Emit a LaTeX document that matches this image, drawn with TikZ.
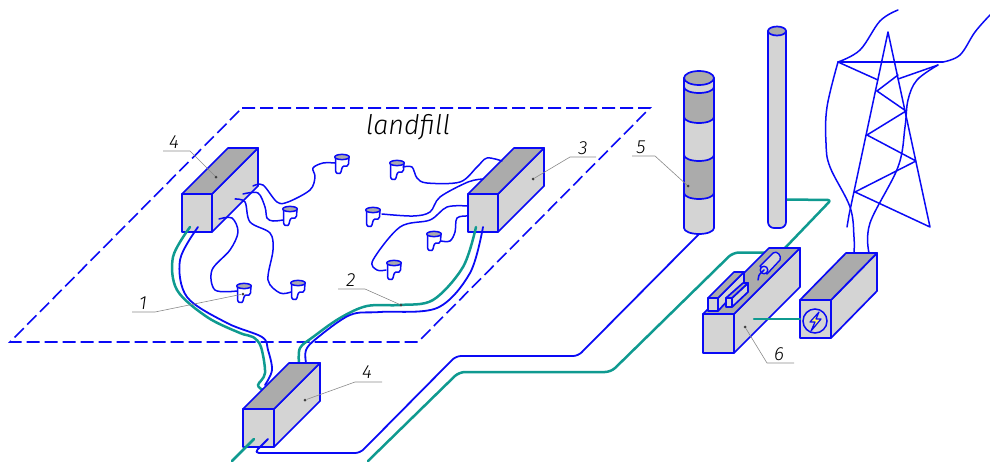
\documentclass[tikz,border=0pt]{standalone}
\usepackage{fontspec}
\newfontfamily\lblfont{Fira Sans Light Italic}
\definecolor{wireblue}{HTML}{0A0AF5}
\definecolor{cableteal}{HTML}{0F9A90}
\definecolor{facegray}{HTML}{D4D4D4}
\definecolor{topgray}{HTML}{ABABAB}
\definecolor{leadgray}{HTML}{8A8A8A}
\newcommand{\isobox}[6]{%
  \draw[solidline,fill=facegray] (#1,#3) rectangle (#2,#4);
  \draw[solidline,fill=facegray] (#2,#3) -- ++(#5,#6) -- ($(#2,#4)+(#5,#6)$) -- (#2,#4) -- cycle;
  \draw[solidline,fill=topgray] (#1,#3) -- (#2,#3) -- ++(#5,#6) -- ($(#1,#3)+(#5,#6)$) -- cycle;
}
\newcommand{\cylband}[5]{% x0 x1 y0 y1 colour
  \draw[solidline,fill=#5] (#1,#3) arc[start angle=180,end angle=0,x radius=15,y radius=6] -- (#2,#4) arc[start angle=0,end angle=180,x radius=15,y radius=6] -- cycle;
}
\usetikzlibrary{calc}
\tikzset{
  x=1pt,y=-1pt,
  solidline/.style={draw=wireblue,line width=1.7pt,line join=round,line cap=round},
  thinwire/.style={draw=wireblue,line width=1.5pt,line join=round,line cap=round},
  cable/.style={draw=cableteal,line width=2.5pt,line join=round,line cap=round},
  bluecable/.style={draw=wireblue,line width=1.8pt,line join=round,line cap=round},
  dashline/.style={draw=wireblue,line width=1.6pt,dash pattern=on 13pt off 5pt},
  leader/.style={draw=leadgray,line width=0.6pt},
  leaddot/.style={fill=black!75,circle,inner sep=0pt,minimum size=3pt},
  numlabel/.style={font=\lblfont\fontsize{19}{19}\selectfont,text=black,inner sep=0pt},
  cup/.pic={
    \draw[thinwire,fill=white] (-6.5,0) -- (-6.5,13) .. controls (-6.5,16.5) and (-4,17) .. (-2,16.5) .. controls (0,15) and (-1,9.5) .. (2,9) .. controls (4,9) and (6.5,10) .. (6.5,7) -- (7,0) -- cycle;
    \draw[thinwire,fill=topgray] (0,0) ellipse[x radius=7.3,y radius=2.6];
  },
}
\begin{document}
\begin{tikzpicture}
\useasboundingbox (0,0) rectangle (990,461);
% landfill
\coordinate (lfA) at (242,108);\coordinate (lfB) at (650,108);\coordinate (lfC) at (418,342);\coordinate (lfD) at (10,342);
\draw[dashline] (lfA) -- (lfB) -- (lfC) -- (lfD) -- cycle;
\node[font=\lblfont\fontsize{27}{27}\selectfont,inner sep=0pt] (title) at (408,127) {landfill};
% upper boxes
\isobox{182}{212}{194}{232}{46}{-46}
\isobox{468}{498}{194}{232}{46}{-46}
% cups
\foreach \cx/\cy in {244/286,298/283,290/209,342/157,397/163,373/210,434/234,394/263}
  \pic at (\cx,\cy) {cup};
% gas wires left
\draw[thinwire] plot[smooth,tension=.55] coordinates {(253,186)(263,185)(277,202)(288,202)(310,190)(315,177)(313,168)(323,163)(335,163)};
\draw[thinwire] plot[smooth,tension=.55] coordinates {(243,194)(258,193)(265,207)(267,218)(273,221)(283,220)};
\draw[thinwire] plot[smooth,tension=.55] coordinates {(235,199)(245,202)(250,222)(270,233)(273,250)(268,280)(280,293)(291,292)};
\draw[thinwire] plot[smooth,tension=.55] coordinates {(219,219)(232,218)(238,232)(230,250)(212,270)(215,290)(237,291)};
% gas wires right
\draw[thinwire] plot[smooth,tension=.55] coordinates {(502,161)(487,158)(477,167)(460,182)(427,183)(417,178)(412,167)(403,167)};
\draw[thinwire] plot[smooth,tension=.55] coordinates {(483,179)(468,182)(440,197)(430,212)(413,216)(382,214)};
\draw[thinwire] plot[smooth,tension=.55] coordinates {(468,206)(447,207)(430,220)(400,227)(373,260)(377,270)(386,270)};
\draw[thinwire] plot[smooth,tension=.55] coordinates {(468,216)(457,218)(455,232)(450,241)(441,241)};
% main cables
\draw[cable] plot[smooth,tension=.55] coordinates {(190,227)(173,257)(177,290)(207,317)(240,333)(253,337)(261,347)(265,373)(258,385)(263,390)};
\draw[bluecable] plot[smooth,tension=.55] coordinates {(198,227)(180,260)(187,297)(227,323)(262,337)(268,350)(272,370)(265,385)};
\draw[cable] plot[smooth,tension=.55] coordinates {(476,227)(463,267)(433,300)(400,305)(367,306)(340,318)(313,337)(300,348)(299,363)};
\draw[bluecable] plot[smooth,tension=.55] coordinates {(483,227)(470,273)(437,308)(380,312)(350,315)(317,338)(306,350)(306,363)};
% lower box
\isobox{243}{274}{409}{447}{46}{-46}
% long runs
\coordinate (tealstart) at (254,439);\coordinate (tealend) at (232,461);
\draw[cable] (tealstart) -- (tealend);
\coordinate (cyl5foot) at (699,234);
\draw[bluecable,rounded corners=5pt] (268,439) -- (254,453) -- (360,453) -- (456,356) -- (578,356) -- (cyl5foot);
\draw[cable,rounded corners=6pt] (368,461) -- (459,372) -- (611,372) -- (733,252.5) -- (765,252.5);
\draw[cable,rounded corners=3pt] (785,248) -- (831,200) -- (786,199.5);
% cylinder 5
\draw[solidline,fill=facegray] (684,78) -- (684,228) arc[start angle=180,end angle=0,x radius=15,y radius=6] -- (714,78) -- cycle;
\cylband{684}{714}{87}{117}{topgray}
\cylband{684}{714}{155}{193}{topgray}
\draw[solidline,fill=topgray] (699,78) ellipse[x radius=15,y radius=7];
% cylinder
\draw[solidline,fill=facegray] (768,31) -- (768,222) arc[start angle=180,end angle=90,x radius=6,y radius=6] -- (780,228) arc[start angle=90,end angle=0,x radius=6,y radius=6] -- (786,31) -- cycle;
\draw[solidline,fill=topgray] (777,31) ellipse[x radius=9,y radius=4.5];
% tower
\draw[thinwire] (847,227) -- (849,215) -- (888,32) -- (930,227) -- (855,192) -- (916,161) -- (867,135) -- (906,111) -- (877,91) -- (898,75);
\draw[thinwire] (838,62) -- (943,62);
\draw[thinwire] (838,62) -- (878,80);
\draw[thinwire] (898,79) -- (938,65);
\draw[thinwire] plot[smooth,tension=.6] coordinates {(898,10)(880,21)(860,50)(838,62)};
\draw[thinwire] plot[smooth,tension=.6] coordinates {(990,15)(975,32)(960,55)(943,62)};
\draw[thinwire] plot[smooth,tension=.6] coordinates {(838,62)(827,107)(826,143)(830,167)(850,207)(854,237)(854,253)};
\draw[thinwire] plot[smooth,tension=.6] coordinates {(938,65)(917,80)(908,100)(905,127)(898,167)(870,223)(869,253)};
% box 6
\isobox{703}{734}{314}{353}{66}{-66}
\draw[solidline,fill=facegray] (708,298) rectangle (718,311);
\draw[solidline,fill=facegray] (718,298) -- (744,272) -- (744,283) -- (718,311) -- cycle;
\draw[solidline,fill=topgray] (708,298) -- (718,298) -- (744,272) -- (734,272) -- cycle;
\draw[solidline,fill=facegray] (726,298) rectangle (732,307);
\draw[solidline,fill=facegray] (732,298) -- (748,283) -- (748,292) -- (732,307) -- cycle;
\draw[solidline,fill=topgray] (726,298) -- (732,298) -- (748,283) -- (743,283) -- cycle;
\draw[solidline,line width=1.4pt,fill=facegray] (760,266) -- (773,253) .. controls (777,250) and (782,256) .. (780,260) -- (767,274) -- cycle;
\draw[solidline,line width=1.4pt,fill=facegray] (764,270) circle[radius=3.8];
\draw[thinwire] (764,270) -- (762,272) .. controls (759,274) and (758,277) .. (758,280);
% power box
\isobox{800}{831}{300}{338}{46}{-47}
\node[circle,draw=wireblue,line width=1.5pt,minimum size=24pt,inner sep=0pt] (powercircle) at (815,321) {};
\draw[draw=wireblue,line width=1.2pt,fill=yellow!60,line join=round] (819,312) -- (810,322) -- (815,322) -- (811,331) -- (821,319) -- (816,319) -- cycle;
\coordinate (feedin) at (754,319);
\draw[cable] (feedin) -- (800,319);
% leaders and labels
\node[leaddot] (d1) at (243,294) {};
\draw[leader] (132,312) -- (155,312) -- (d1);
\node[numlabel] (n1) at (143,303) {1};
\node[leaddot] (d4a) at (216,177) {};
\draw[leader] (163,151) -- (190,151) -- (d4a);
\node[numlabel] (n4a) at (174,142) {4};
\node[leaddot] (d2) at (401,305) {};
\draw[leader] (338,289) -- (365,289) -- (d2);
\node[numlabel] (n2) at (351,280) {2};
\node[leaddot] (d3) at (533,179) {};
\draw[leader] (596,157) -- (570,157) -- (d3);
\node[numlabel] (n3) at (583,148) {3};
\node[leaddot] (d4b) at (305,400) {};
\draw[leader] (382,382) -- (355,382) -- (d4b);
\node[numlabel] (n4b) at (367,372) {4};
\node[leaddot] (d5) at (688,186) {};
\draw[leader] (632,156) -- (655,156) -- (d5);
\node[numlabel] (n5) at (641,147) {5};
\node[leaddot] (d6) at (745,327) {};
\draw[leader] (794,363) -- (767,363) -- (d6);
\node[numlabel] (n6) at (779,354) {6};
\end{tikzpicture}
\end{document}
